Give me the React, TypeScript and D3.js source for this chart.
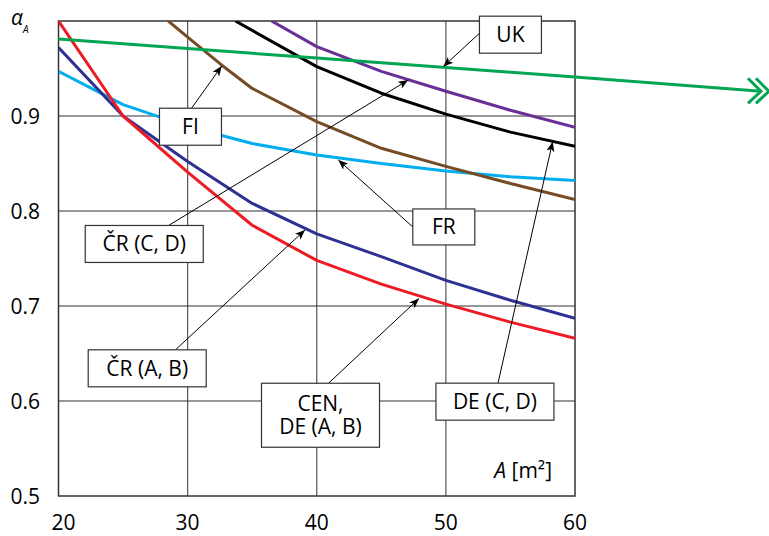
import React, { useEffect, useRef } from "react";
import * as d3 from "d3";

// axis ticks
const areaTicks = [20, 30, 40, 50, 60];
const alphaTicks = [0.5, 0.6, 0.7, 0.8, 0.9];

// curves: A [m2] -> alpha_A
const cenArea = [20, 25, 30, 35, 40, 45, 50, 55, 60];
const cenAlpha = [1.0, 0.9, 0.841, 0.785, 0.748, 0.723, 0.702, 0.683, 0.666];

const crAbArea = [20, 25, 30, 35, 40, 45, 50, 55, 60];
const crAbAlpha = [0.972, 0.9, 0.852, 0.808, 0.776, 0.752, 0.727, 0.706, 0.687];

const frArea = [20, 25, 30, 35, 40, 45, 50, 55, 60];
const frAlpha = [0.947, 0.912, 0.889, 0.871, 0.859, 0.85, 0.842, 0.836, 0.832];

const fiArea = [28.5, 30, 32.6, 35, 40, 45, 50, 55, 60];
const fiAlpha = [1.0, 0.983, 0.954, 0.929, 0.894, 0.866, 0.847, 0.829, 0.812];

const deCdArea = [33.7, 40, 45, 50, 55, 60];
const deCdAlpha = [1.0, 0.952, 0.924, 0.902, 0.883, 0.868];

const crCdArea = [36.5, 40, 45, 50, 55, 60];
const crCdAlpha = [1.0, 0.973, 0.947, 0.926, 0.906, 0.888];

const ukArea = [20, 30, 40, 50, 60, 74.4];
const ukAlpha = [0.981, 0.971, 0.961, 0.951, 0.941, 0.926];

type Series = { key: string; xs: number[]; ys: number[]; color: string; clip: boolean };

const series: Series[] = [
  { key: "FR", xs: frArea, ys: frAlpha, color: "#00aeef", clip: true },
  { key: "FI", xs: fiArea, ys: fiAlpha, color: "#754c24", clip: true },
  { key: "DE (C, D)", xs: deCdArea, ys: deCdAlpha, color: "#000000", clip: true },
  { key: "ČR (C, D)", xs: crCdArea, ys: crCdAlpha, color: "#6a2f96", clip: true },
  { key: "ČR (A, B)", xs: crAbArea, ys: crAbAlpha, color: "#2e3192", clip: true },
  { key: "CEN", xs: cenArea, ys: cenAlpha, color: "#ed1c24", clip: true },
  { key: "UK", xs: ukArea, ys: ukAlpha, color: "#00a651", clip: false },
];

// callout boxes: centre + arrow tip in data units
const calloutText = [["UK"], ["FI"], ["ČR (C, D)"], ["ČR (A, B)"], ["FR"], ["CEN,", "DE (A, B)"], ["DE (C, D)"]];
const calloutX = [55.0, 30.22, 26.64, 26.87, 49.84, 40.29, 53.8];
const calloutY = [0.9856, 0.8887, 0.7653, 0.6344, 0.7832, 0.585, 0.5993];
const tipX = [49.8, 32.64, 47.09, 39.09, 41.67, 47.92, 58.27];
const tipY = [0.952, 0.9526, 0.9379, 0.78, 0.8537, 0.7079, 0.873];

const FONT = "'Open Sans', sans-serif";

export default function App() {
  const ref = useRef<SVGSVGElement>(null);

  useEffect(() => {
    const svg = d3.select(ref.current);
    svg.selectAll("*").remove();

    const x = d3.scaleLinear().domain([20, 60]).range([58.5, 575]);
    const y = d3.scaleLinear().domain([0.5, 1.0]).range([496, 21]);

    const defs = svg.append("defs");
    defs.append("clipPath").attr("id", "plot-clip")
      .append("rect")
      .attr("x", x(20)).attr("y", y(1.0))
      .attr("width", x(60) - x(20)).attr("height", y(0.5) - y(1.0));
    defs.append("marker")
      .attr("id", "arrow")
      .attr("markerUnits", "userSpaceOnUse")
      .attr("viewBox", "0 0 10 8")
      .attr("refX", 10).attr("refY", 4)
      .attr("markerWidth", 11).attr("markerHeight", 8)
      .attr("orient", "auto")
      .append("path").attr("d", "M0,0 L10,4 L0,8 L2.5,4 Z").attr("fill", "#000");

    // grid
    const grid = svg.append("g");
    grid.selectAll("line.v").data(areaTicks.slice(1, -1)).join("line")
      .attr("x1", d => x(d)).attr("x2", d => x(d))
      .attr("y1", y(1.0)).attr("y2", y(0.5))
      .attr("stroke", "#555").attr("stroke-width", 1.2);
    grid.selectAll("line.h").data(alphaTicks.slice(1)).join("line")
      .attr("x1", x(20)).attr("x2", x(60))
      .attr("y1", d => y(d)).attr("y2", d => y(d))
      .attr("stroke", "#333").attr("stroke-width", 1.2);

    svg.append("rect")
      .attr("x", x(20)).attr("y", y(1.0))
      .attr("width", x(60) - x(20)).attr("height", y(0.5) - y(1.0))
      .attr("fill", "none").attr("stroke", "#333").attr("stroke-width", 1.5);

    // tick labels
    svg.append("g").selectAll("text").data(areaTicks).join("text")
      .attr("x", (d, i) => x(d) + (i === 0 ? 5 : 0))
      .attr("y", 530)
      .attr("text-anchor", "middle")
      .attr("font-family", FONT).attr("font-size", 21)
      .text(d => d);
    svg.append("g").selectAll("text").data(alphaTicks).join("text")
      .attr("x", 40)
      .attr("y", d => y(d))
      .attr("dy", "0.36em")
      .attr("text-anchor", "end")
      .attr("font-family", FONT).attr("font-size", 21)
      .text(d => d.toFixed(1));

    // axis titles
    const yt = svg.append("text").attr("x", 11).attr("y", 25).attr("font-family", FONT).attr("font-style", "italic");
    yt.append("tspan").attr("font-size", 21).text("α");
    yt.append("tspan").attr("font-size", 10).attr("dy", 8).text("A");

    const xt = svg.append("text").attr("x", 552).attr("y", 478).attr("text-anchor", "end")
      .attr("font-family", FONT).attr("font-size", 21);
    xt.append("tspan").attr("font-style", "italic").text("A");
    xt.append("tspan").text(" [m²]");

    // curves
    const line = d3.line<[number, number]>().x(d => x(d[0])).y(d => y(d[1]));
    svg.append("g").selectAll("path").data(series).join("path")
      .attr("d", s => line(s.xs.map((v, i) => [v, s.ys[i]] as [number, number])))
      .attr("clip-path", s => (s.clip ? "url(#plot-clip)" : null))
      .attr("fill", "none")
      .attr("stroke", s => s.color)
      .attr("stroke-width", 3)
      .attr("stroke-linejoin", "round");

    // double chevron at the end of the UK line
    const endX = x(ukArea[ukArea.length - 1]);
    const endY = y(ukAlpha[ukAlpha.length - 1]);
    svg.append("g").selectAll("path").data([0, 8]).join("path")
      .attr("d", o => `M${endX + o - 13},${endY - 13} L${endX + o},${endY} L${endX + o - 13},${endY + 12}`)
      .attr("fill", "none").attr("stroke", "#00a651").attr("stroke-width", 3);

    // callouts
    const boxW = [62, 62, 118, 118, 62, 118, 118];
    const boxH = [37, 37, 37, 37, 36, 64, 37];
    const startOff = [[-31, -1.4], [1, -18.4], [24, -18.3], [28, -18.3], [-31, 0], [8, -32], [3, -18.3]];

    const callouts = svg.append("g").selectAll("g").data(calloutText).join("g");
    callouts.append("line")
      .attr("x1", (d, i) => x(calloutX[i]) + startOff[i][0])
      .attr("y1", (d, i) => y(calloutY[i]) + startOff[i][1])
      .attr("x2", (d, i) => x(tipX[i]))
      .attr("y2", (d, i) => y(tipY[i]))
      .attr("stroke", "#000").attr("stroke-width", 1)
      .attr("marker-end", "url(#arrow)");
    callouts.append("rect")
      .attr("x", (d, i) => x(calloutX[i]) - boxW[i] / 2)
      .attr("y", (d, i) => y(calloutY[i]) - boxH[i] / 2)
      .attr("width", (d, i) => boxW[i])
      .attr("height", (d, i) => boxH[i])
      .attr("fill", "#fff").attr("stroke", "#333").attr("stroke-width", 1.2);
    // one text per box, extra lines as tspans
    callouts.each(function (lines, i) {
      const cx = x(calloutX[i]);
      const txt = d3.select(this).append("text")
        .attr("text-anchor", "middle")
        .attr("font-family", FONT).attr("font-size", 21);
      lines.forEach((t, k) => {
        txt.append("tspan")
          .attr("x", cx)
          .attr("y", y(calloutY[i]) + (k - (lines.length - 1) / 2) * 23 + 7.5)
          .text(t);
      });
    });
  }, []);

  return (
    <svg
      ref={ref}
      width={769}
      height={536}
      style={{ position: "absolute", left: 0, top: 0, background: "#fff" }}
    />
  );
}
